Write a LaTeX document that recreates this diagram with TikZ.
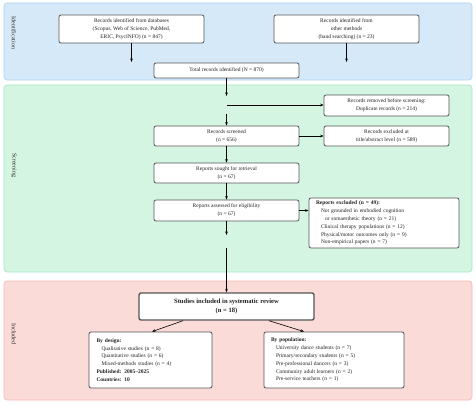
\documentclass[tikz,border=0pt]{standalone}
\usepackage{fontspec}
\setmainfont{Liberation Serif}
\usetikzlibrary{arrows.meta}
\definecolor{idfill}{HTML}{D6E9F8}
\definecolor{iddraw}{HTML}{A9D1F2}
\definecolor{scfill}{HTML}{D5F5E3}
\definecolor{scdraw}{HTML}{A3E4BE}
\definecolor{infill}{HTML}{FADBD8}
\definecolor{indraw}{HTML}{F5B7B1}
\definecolor{boxdraw}{HTML}{555555}
\definecolor{txt}{HTML}{222222}
\definecolor{lbl}{HTML}{2A2A2A}
\begin{document}
\begin{tikzpicture}[x=1pt,y=-1pt,
  band/.style={rounded corners=3pt, line width=0.6pt},
  bandlabel/.style={rotate=-90, font=\fontsize{6}{7}\selectfont, text=lbl},
  stepbox/.style={draw=boxdraw, fill=white, rounded corners=2pt, line width=0.8pt, align=center,
    inner sep=1pt, font=\fontsize{5.5}{7.8}\selectfont, text=txt},
  listbox/.style={stepbox, align=left, inner ysep=0pt, inner xsep=7pt},
  conn/.style={draw=black, line width=0.6pt, -{Stealth[length=3.5pt,width=2.6pt]}},
  plain/.style={draw=black, line width=0.6pt}
]
\useasboundingbox (0,0) rectangle (476,404);
% bands
\draw[band, fill=idfill, draw=iddraw] (4,3) rectangle (472,80);
\draw[band, fill=scfill, draw=scdraw] (4,85) rectangle (472,272);
\draw[band, fill=infill, draw=indraw] (4,281) rectangle (472,400);
\node[bandlabel] (lid) at (14,33) {Identification};
\node[bandlabel] (lsc) at (14,165) {Screening};
\node[bandlabel] (lin) at (14,334) {Included};

% identification
\node[stepbox, minimum width=145pt, minimum height=28pt] (db) at (131.5,29)
  {Records identified from databases\\(Scopus, Web of Science, PubMed,\\ERIC, PsycINFO) (n = 847)};
\node[stepbox, minimum width=145pt, minimum height=28pt] (oth) at (346.5,29)
  {Records identified from\\other methods\\(hand searching) (n = 23)};
\node[stepbox, minimum width=145pt, minimum height=15pt] (tot) at (226.5,70.5)
  {Total records identified (N = 870)};
\coordinate (dbend) at (131.5,62);
\coordinate (othend) at (346.5,62);
\draw[conn] (db.south) -- (dbend);
\draw[conn] (oth.south) -- (othend);

% screening
\node[stepbox, minimum width=125pt, minimum height=21pt] (rem) at (386.5,105.5)
  {Records removed before screening:\\Duplicate records (n = 214)};
\node[stepbox, minimum width=145pt, minimum height=20pt] (scr) at (226.5,136)
  {Records screened\\(n = 656)};
\node[stepbox, minimum width=125pt, minimum height=20pt] (exc) at (386.5,136)
  {Records excluded at\\title/abstract level (n = 589)};
\node[stepbox, minimum width=145pt, minimum height=20pt] (sou) at (226.5,173)
  {Reports sought for retrieval\\(n = 67)};
\node[stepbox, minimum width=145pt, minimum height=21pt] (ass) at (226.5,210.5)
  {Reports assessed for eligibility\\(n = 67)};
\node[listbox, minimum width=150pt, minimum height=50pt, text width=136pt] (rex) at (384,223)
  {\textbf{Reports excluded (n = 49):}\\
   \hspace*{5pt}Not grounded in embodied cognition\\
   \hspace*{9pt}or somaesthetic theory (n = 21)\\
   \hspace*{5pt}Clinical therapy populations (n = 12)\\
   \hspace*{5pt}Physical/motor outcomes only (n = 9)\\
   \hspace*{5pt}Non-empirical papers (n = 7)};

\coordinate (j0) at (226.5,96);
\coordinate (j1) at (226.5,105);
\coordinate (j2) at (226.5,114);
\draw[conn] (tot.south) -- (j0);
\draw[conn] (j1) -- (rem.west |- j1);
\draw[conn] (j2) -- (scr.north);
\draw[conn] (scr.east) -- (exc.west);
\draw[conn] (scr.south) -- (sou.north);
\draw[conn] (sou.south) -- (ass.north);
\draw[conn] (ass.east) -- (rex.west |- ass.east);
\coordinate (j3) at (226.5,235);
\coordinate (j4) at (226.5,248);
\draw[conn] (ass.south) -- (j3);

% included
\node[stepbox, line width=1.4pt, minimum width=175pt, minimum height=27pt,
  font=\fontsize{6.6}{9}\selectfont\bfseries] (inc) at (226.5,306.5)
  {Studies included in systematic review\\(n = 18)};
\draw[conn] (j4) -- (inc.north);
\node[listbox, minimum width=123pt, minimum height=56pt, text width=108pt] (des) at (150.5,360)
  {\textbf{By design:}\\
   \hspace*{5pt}Qualitative studies (n = 8)\\
   \hspace*{5pt}Quantitative studies (n = 6)\\
   \hspace*{5pt}Mixed-methods studies (n = 4)\\
   \textbf{Published: 2005–2025}\\
   \textbf{Countries: 10}};
\node[listbox, minimum width=140pt, minimum height=56pt, text width=126pt] (pop) at (334,360)
  {\textbf{By population:}\\
   \hspace*{5pt}University dance students (n = 7)\\
   \hspace*{5pt}Primary/secondary students (n = 5)\\
   \hspace*{5pt}Pre-professional dancers (n = 3)\\
   \hspace*{5pt}Community adult learners (n = 2)\\
   \hspace*{5pt}Pre-service teachers (n = 1)};
\draw[conn] ([xshift=-43.5pt]inc.south) -- ([xshift=1.5pt]des.north);
\draw[conn] ([xshift=42.5pt]inc.south) -- ([xshift=-30pt]pop.north);
\end{tikzpicture}
\end{document}
